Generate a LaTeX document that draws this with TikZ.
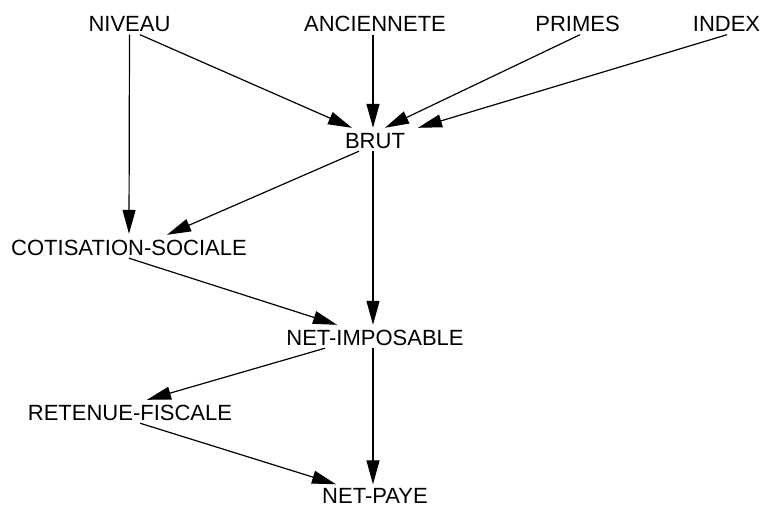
\documentclass[tikz,border=0pt]{standalone}
\usepackage{fontspec}
\setmainfont{Liberation Sans}
\usepackage{xcolor}
\usepackage{tikz}
\usetikzlibrary{arrows.meta, calc}

\begin{document}
\begin{tikzpicture}[x=1pt, y=-1pt,
    var/.style={inner xsep=3pt, inner ysep=3pt, text height=16pt, text depth=0pt,
      font=\fontsize{22}{26}\selectfont},
    dep/.style={line width=1.2pt, -{Triangle[length=24pt, width=13pt]}}]
    \useasboundingbox (0,0) rectangle (763,507);
    % Inputs (top row)
    \node[var] (niveau)     at (129.5,23.5) {NIVEAU};
    \node[var] (anciennete) at (375,23.5)   {ANCIENNETE};
    \node[var] (primes)     at (577.5,23.5) {PRIMES};
    \node[var] (index)      at (726.5,23.5) {INDEX};
    % Intermediate values
    \node[var] (brut)       at (375,140)    {BRUT};
    \node[var] (cotisation) at (129,247)    {COTISATION-SOCIALE};
    \node[var] (imposable)  at (375,337)    {NET-IMPOSABLE};
    \node[var] (retenue)    at (130,412)    {RETENUE-FISCALE};
    \node[var, inner ysep=2pt] (paye) at (375,495.5) {NET-PAYE};
    % Edges into BRUT
    \draw[dep] (niveau.south) -- ([yshift=2pt]cotisation.north);
    \draw[dep] ([xshift=10.5pt]niveau.south) -- ([xshift=-23pt,yshift=1pt]brut.north);
    \draw[dep] ([xshift=-2pt]anciennete.south) -- ([xshift=-2pt,yshift=1pt]brut.north);
    \draw[dep] ([xshift=2.5pt]primes.south) -- ([xshift=10pt,yshift=1pt]brut.north);
    \draw[dep] ([xshift=0.5pt]index.south) -- ([xshift=43pt,yshift=1pt]brut.north);
    % Edges below BRUT
    \draw[dep] ([xshift=-16pt]brut.south) -- ([xshift=38pt,yshift=1pt]cotisation.north);
    \draw[dep] ([xshift=-2pt]brut.south) -- ([xshift=-2pt,yshift=1pt]imposable.north);
    \draw[dep] (cotisation.south) -- ([xshift=-38pt,yshift=1pt]imposable.north);
    \draw[dep] ([xshift=-50pt]imposable.south) -- ([xshift=17pt,yshift=1pt]retenue.north);
    \draw[dep] ([xshift=-2pt]imposable.south) -- ([xshift=-2pt,yshift=1pt]paye.north);
    \draw[dep] ([xshift=10pt]retenue.south) -- ([xshift=-39pt,yshift=1pt]paye.north);
\end{tikzpicture}
\end{document}
